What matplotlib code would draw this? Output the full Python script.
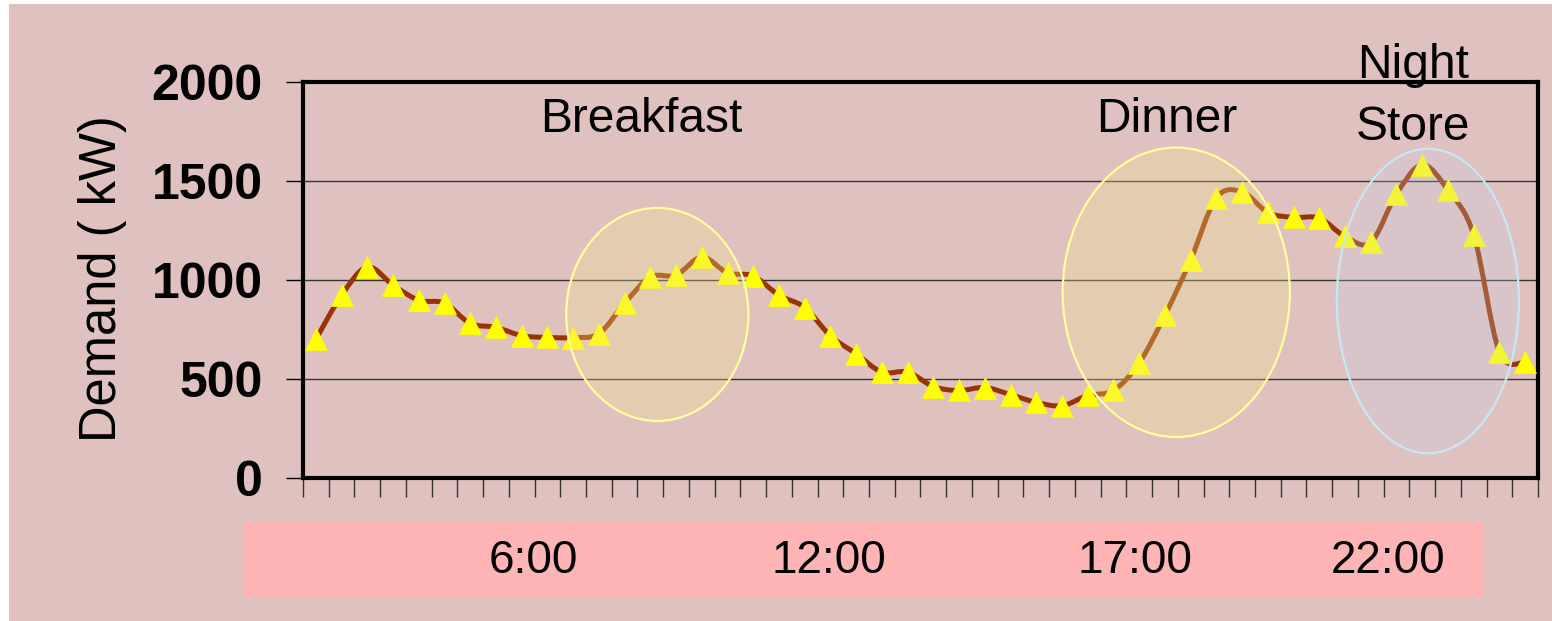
import numpy as np
import matplotlib
matplotlib.use('Agg')
import matplotlib.pyplot as plt
from matplotlib.patches import Ellipse, Rectangle, PathPatch
from matplotlib.path import Path

# half-hourly demand over one day (kW)
demand_kw = [700, 923, 1066, 974, 898, 883, 781, 761, 719, 710, 709, 729,
             883, 1015, 1025, 1116, 1036, 1020, 923, 861, 718, 627, 535, 535,
             462, 442, 457, 421, 382, 365, 417, 442, 581, 822, 1101, 1415,
             1445, 1341, 1316, 1312, 1220, 1190, 1434, 1582, 1454, 1228, 636, 585]
y_ticks = [0, 500, 1000, 1500, 2000]
time_labels = ['6:00', '12:00', '17:00', '22:00']
time_label_px = [533, 829, 1135, 1388]

BG = '#DFC1C0'
W, H = 1552, 621

plt.rcParams['font.family'] = ['Liberation Sans', 'DejaVu Sans']


def smooth_path(xs, ys):
    """Cubic Bezier through every point (Excel-style smoothed line)."""
    pts = np.column_stack([xs, ys]).astype(float)
    padded = np.vstack([pts[0], pts, pts[-1]])
    verts = [pts[0]]
    codes = [Path.MOVETO]
    for i in range(len(pts) - 1):
        p0, p1, p2, p3 = padded[i], padded[i + 1], padded[i + 2], padded[i + 3]
        verts += [p1 + (p2 - p0) / 6, p2 - (p3 - p1) / 6, p2]
        codes += [Path.CURVE4] * 3
    return Path(verts, codes)


fig = plt.figure(figsize=(W / 100, H / 100), dpi=100, facecolor='white')
fig.patches.append(Rectangle((9 / W, 0), 1 - 9 / W, 1 - 4 / H, transform=fig.transFigure,
                             facecolor=BG, edgecolor='none', zorder=-10))

ax = fig.add_axes([303 / W, (H - 478) / H, 1235 / W, 396 / H])
ax.set_facecolor(BG)

n = len(demand_kw)
x = np.arange(1, n + 1)
ax.set_xlim(0.5, n + 0.5)
ax.set_ylim(0, 2000)

# demand curve and markers
ax.add_patch(PathPatch(smooth_path(x, demand_kw), facecolor='none', edgecolor='#993300',
                       lw=3.6, zorder=3, capstyle='round', joinstyle='round'))
ax.plot(x, demand_kw, ls='none', marker='^', ms=15.5, mfc='#FFFF00', mec='#FFFF00',
        mew=0.5, zorder=4)

# highlighted periods
ax.add_patch(Ellipse((14.27, 826), 7.08, 1076, facecolor=(242 / 255, 231 / 255, 142 / 255, 0.3),
                     edgecolor='#FFFFA0', lw=1.6, zorder=5, clip_on=False))
ax.add_patch(Ellipse((34.44, 938), 8.83, 1462, facecolor=(242 / 255, 231 / 255, 142 / 255, 0.3),
                     edgecolor='#FFFFA0', lw=1.6, zorder=5, clip_on=False))
ax.add_patch(Ellipse((44.22, 894), 7.08, 1538, facecolor=(200 / 255, 212 / 255, 228 / 255, 0.25),
                     edgecolor='#C8E6F5', lw=1.6, zorder=5, clip_on=False))

# axes styling
ax.set_yticks(y_ticks)
ax.set_yticklabels([str(v) for v in y_ticks], fontweight='bold')
ax.tick_params(axis='y', length=12, width=1, pad=17, labelsize=36)
ax.set_xticks(np.arange(0.5, n + 1, 1))
ax.set_xticklabels([])
ax.tick_params(axis='x', length=14, width=1, color='#333333')
ax.grid(axis='y', color='#333333', lw=1)
ax.set_axisbelow(True)
for sp in ax.spines.values():
    sp.set_linewidth(3)
    sp.set_color('black')

fig.text(103 / W, 1 - 279 / H, 'Demand ( kW)', rotation=90, ha='center', va='center',
         fontsize=36.5)

# period labels
fig.text(641 / W, 1 - 132 / H, 'Breakfast', ha='center', va='baseline', fontsize=34.5)
fig.text(1167 / W, 1 - 132 / H, 'Dinner', ha='center', va='baseline', fontsize=34.5)
fig.text(1413 / W, 1 - 78 / H, 'Night', ha='center', va='baseline', fontsize=34.5)
fig.text(1413 / W, 1 - 140 / H, 'Store', ha='center', va='baseline', fontsize=34.5)

# time band below the chart
fig.patches.append(Rectangle((243 / W, (H - 597) / H), 1240 / W, 75 / H,
                             transform=fig.transFigure, facecolor='#FFB5B5',
                             edgecolor='none', zorder=-5))
for lbl, px in zip(time_labels, time_label_px):
    fig.text(px / W, 1 - 561 / H, lbl, ha='center', va='center', fontsize=33)

fig.savefig('out.png', dpi=100, facecolor=fig.get_facecolor())
